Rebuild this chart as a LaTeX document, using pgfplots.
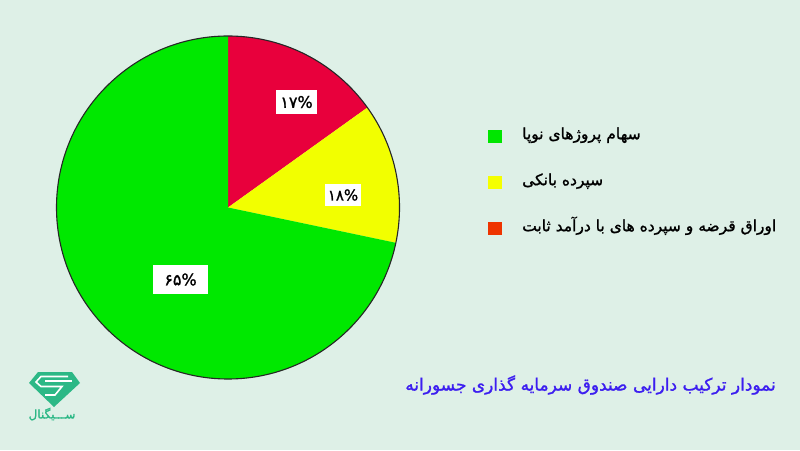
\documentclass[border=0pt]{standalone}
\usepackage{pgfplots}
\pgfplotsset{compat=1.18}
\usepackage{fontspec}
\setmainfont{DejaVu Sans}
\newfontfamily\fa[Script=Arabic]{DejaVu Sans}
\newfontfamily\fab[Script=Arabic, FakeBold=1.3]{DejaVu Sans}
\TeXXeTstate=1

\definecolor{bg}{RGB}{222,240,231}
\definecolor{pieGreen}{RGB}{0,232,0}
\definecolor{pieYellow}{RGB}{242,255,0}
\definecolor{pieRed}{RGB}{232,0,60}
\definecolor{legGreen}{RGB}{0,230,0}
\definecolor{legYellow}{RGB}{245,255,0}
\definecolor{legRed}{RGB}{238,52,0}
\definecolor{titleBlue}{RGB}{60,30,240}
\definecolor{logoGreen}{RGB}{44,184,134}

% slice from #1 to #2 percent (clockwise from the top)
\newcommand{\slice}[3]{%
  \fill[#3] (axis cs:0,0) -- ++({90-3.6*#1}:171.5pt)
    arc[start angle={90-3.6*#1}, end angle={90-3.6*#2}, radius=171.5pt] -- cycle;}

\begin{document}
\begin{tikzpicture}[x=1pt,y=1pt]
\fill[bg] (0,0) rectangle (800,450);

\begin{axis}[
  at={(228,242.5)}, anchor=origin,
  x=1pt, y=1pt,
  xmin=-172, xmax=172, ymin=-172, ymax=172,
  hide axis, clip=false,
  legend style={at={(axis cs:257,81.5)}, anchor=north west,
    draw=none, fill=none,
    font=\fontsize{15.5}{18}\selectfont\fab,
    row sep=30pt, column sep=20pt,
    nodes={inner sep=0pt, text height=11pt, text depth=5pt},
    cells={anchor=west}},
  legend image code/.code={\fill[#1] (0pt,-6.5pt) rectangle (14pt,6.5pt);},
]
% drawn shares, measured on the picture: red 15.1, yellow 13.2, green 71.7
\slice{0}{15.1}{pieRed}
\slice{15.1}{28.3}{pieYellow}
\slice{28.3}{100}{pieGreen}
\draw[black!85, line width=1.1pt] (axis cs:0,0) circle[radius=171.5pt];

\node[fill=white, font=\fontsize{16}{18}\selectfont\fab, inner sep=0pt,
  minimum width=41pt, minimum height=24pt] at (axis cs:68.5,105.5) {۱۷\%};
\node[fill=white, font=\fontsize{15}{18}\selectfont\fab, inner sep=0pt,
  minimum width=36pt, minimum height=22pt] at (axis cs:115,12.5) {۱۸\%};
\node[fill=white, font=\fontsize{16}{18}\selectfont\fab, inner sep=0pt,
  minimum width=55pt, minimum height=29pt] at (axis cs:-47.5,-72) {۶۵\%};

\addlegendimage{fill=legGreen, draw=none}
\addlegendentry{\beginR سهام پروژهای نوپا\endR}
\addlegendimage{fill=legYellow, draw=none}
\addlegendentry{\beginR سپرده بانکی\endR}
\addlegendimage{fill=legRed, draw=none}
\addlegendentry{\beginR اوراق قرضه و سپرده های با درآمد ثابت\endR}
\end{axis}

% title
\node[titleBlue, font=\fontsize{17}{20}\selectfont\fab] at (590.5,65)
  {\beginR نمودار ترکیب دارایی صندوق سرمایه گذاری جسورانه\endR};

% logo
\fill[logoGreen] (38,78) -- (72,78) -- (80,67) -- (54,43) -- (29,67) -- cycle;
\draw[white, line width=1.6pt] (68,73.5) -- (41,73.5) -- (36,68) -- (41,63.5) -- (62,63.5)
  -- (55,55) -- (45,55);
\draw[white, line width=1.6pt] (45,69) -- (72,69);
\node[logoGreen, font=\fontsize{12}{14}\selectfont\fab] at (52,36) {\beginR ســـیگنال\endR};

\pgfresetboundingbox
\path[use as bounding box] (0,0) rectangle (800,450);
\end{tikzpicture}
\end{document}
